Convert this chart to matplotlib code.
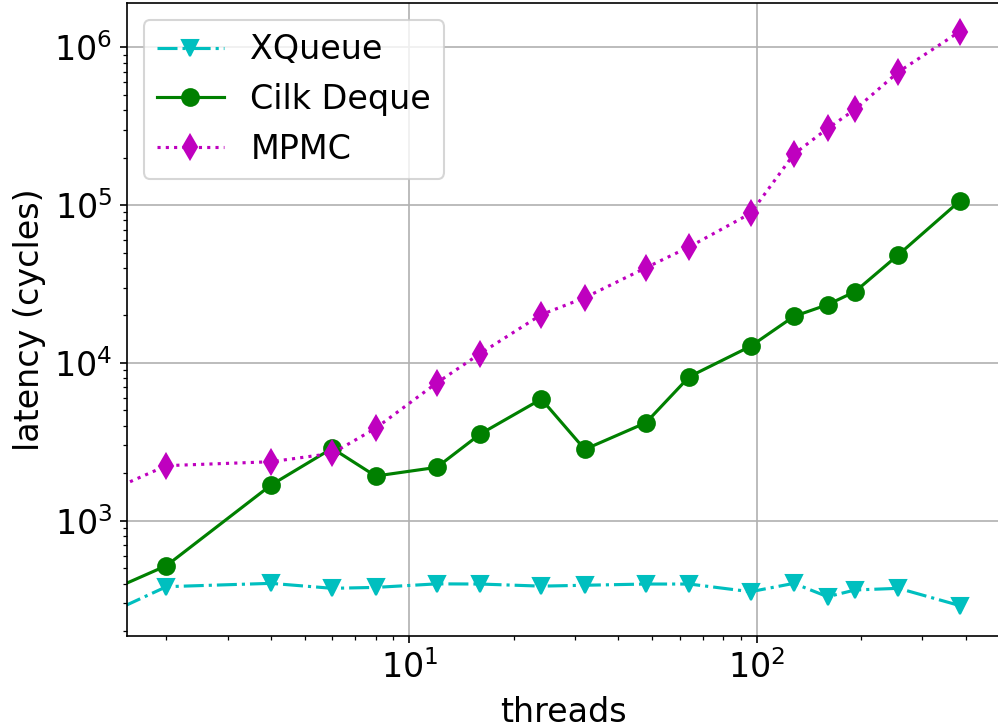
import matplotlib
matplotlib.use('Agg')
import matplotlib.pyplot as plt

# thread counts used in the benchmark runs
threads = [1, 2, 4, 6, 8, 12, 16, 24, 32, 48, 64, 96, 128, 160, 192, 256, 384]

# mean latency in cycles per queue implementation
xqueue = [189, 382, 401, 373, 378, 398, 397, 385, 390, 397, 397, 355, 401, 330, 364, 373, 290]
cilk_deque = [265, 519, 1683, 2876, 1919, 2179, 3541, 5900, 2832, 4178, 8182,
              12740, 19720, 23390, 28300, 48500, 106000]
mpmc = [1138, 2233, 2365, 2672, 3853, 7470, 11460, 20230, 25900, 40100, 54400,
        88600, 210500, 306000, 403700, 699000, 1257000]

W, H = 998, 726
fig = plt.figure(figsize=(W / 150, H / 150), dpi=150)
ax = fig.add_axes([127 / W, (H - 636) / H, (999.5 - 127) / W, (636 - 3.3) / H])

ax.plot(threads, xqueue, 'c-.', marker='v', markersize=8, label='XQueue')
ax.plot(threads, cilk_deque, 'g-', marker='o', markersize=8, label='Cilk Deque')
ax.plot(threads, mpmc, 'm:', marker='d', markersize=8, label='MPMC')

ax.set_xscale('log')
ax.set_yscale('log')
ax.set_xlim(1.54, 500)
ax.set_ylim(186, 1.9e6)

ax.grid(True, which='major', color='#b0b0b0', linewidth=0.8)
ax.tick_params(labelsize=16)
ax.set_xlabel('threads', fontsize=16, labelpad=5)
ax.set_ylabel('latency (cycles)', fontsize=16)
ax.legend(loc='upper left', fontsize=16)

fig.savefig('out.png', dpi=150)
